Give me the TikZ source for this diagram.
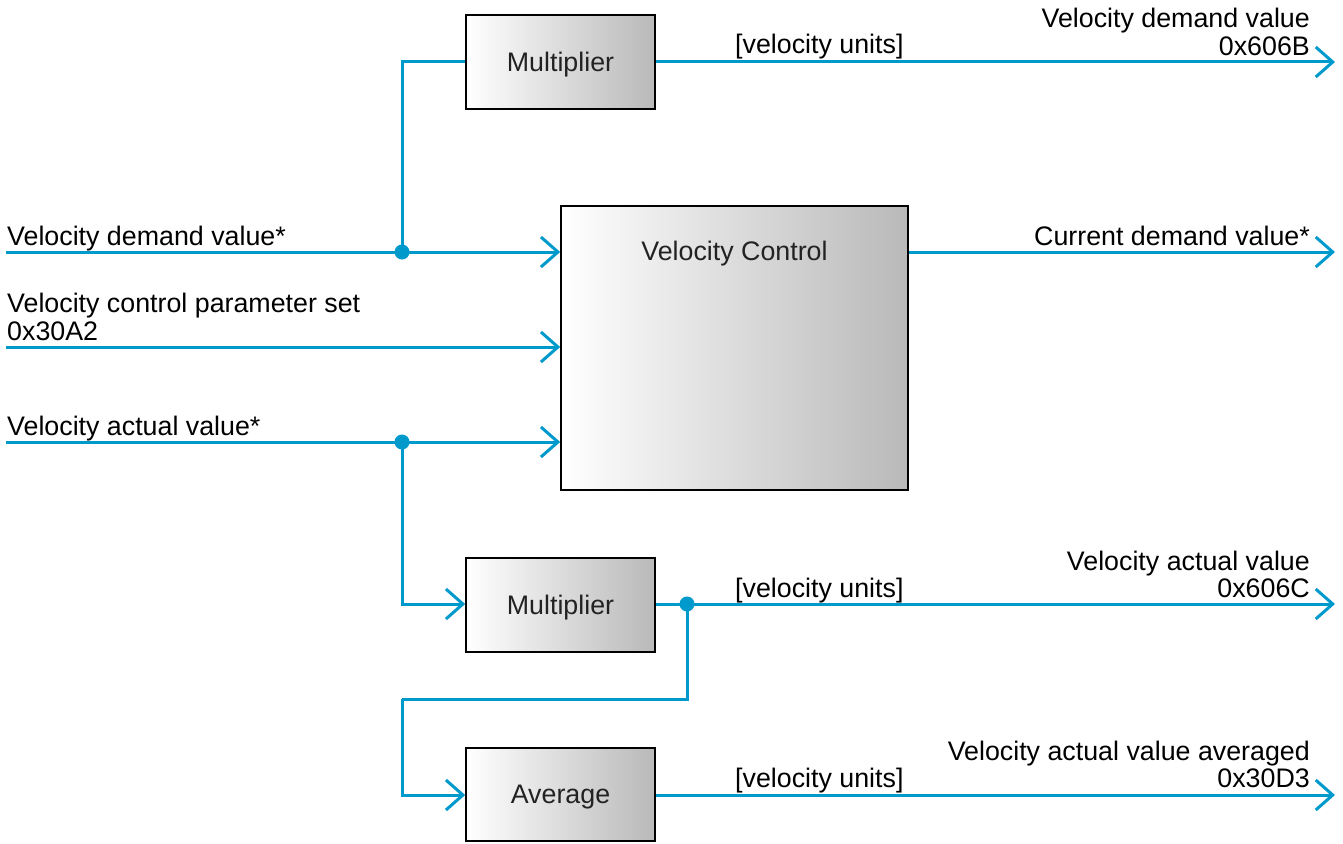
\documentclass[tikz,border=0pt]{standalone}
\usepackage{fontspec}
\setmainfont{Liberation Sans}
\usetikzlibrary{arrows.meta}
\definecolor{wire}{RGB}{0,153,204}
\definecolor{boxtext}{RGB}{34,34,34}
\begin{document}
\begin{tikzpicture}[x=1pt,y=-1pt,
  font=\fontsize{26.8pt}{28pt}\selectfont,
  blk/.style={draw=black,line width=1.6pt,left color=white,right color=gray!55,
    inner sep=0pt,text=boxtext,text depth=0pt},
  wireline/.style={draw=wire,line width=3pt},
  arr/.style={wireline,-{Straight Barb[length=17pt,width=30pt,line width=3pt]}},
  dot/.style={circle,fill=wire,inner sep=0pt,minimum size=15pt},
  lbl/.style={inner sep=0pt,text=black}]
\useasboundingbox (0,0) rectangle (1343,843);
% blocks
\node[blk,minimum width=189pt,minimum height=94pt] (mult1) at (560.5,62) {Multiplier};
\node[blk,minimum width=347pt,minimum height=284pt] (vc) at (734.5,348) {};
\node[lbl,text=boxtext,anchor=base] (vclabel) at (734.5,260) {Velocity Control};
\node[blk,minimum width=189pt,minimum height=94pt] (mult2) at (560.5,605) {Multiplier};
\node[blk,minimum width=189pt,minimum height=93pt] (avg) at (560.5,794.5) {Average};
% coordinates
\coordinate (in1) at (6,252);
\coordinate (in2) at (6,347);
\coordinate (in3) at (6,442);
\coordinate (out1) at (1335,62);
\coordinate (out2) at (1335,252);
\coordinate (out3) at (1335,604);
\coordinate (out4) at (1335,795);
\coordinate (c1) at (402,699);
% junction dots
\node[dot] (j1) at (402,252) {};
\node[dot] (j2) at (402,442) {};
\node[dot] (j3) at (687,604) {};
% connectors
\draw[arr] (in1) -- (vc.west |- in1);
\draw[arr] (in2) -- (vc.west |- in2);
\draw[arr] (in3) -- (vc.west |- in3);
\draw[wireline] (j1.center) |- (mult1.west);
\draw[arr] (mult1.east) -- (out1);
\draw[arr] (vc.east |- out2) -- (out2);
\draw[arr] (j2.center) |- (mult2.west |- out3);
\draw[arr] (mult2.east |- out3) -- (out3);
\draw[wireline] (j3.center) |- (c1);
\draw[arr] (c1) |- (avg.west |- out4);
\draw[arr] (avg.east |- out4) -- (out4);
% labels
\node[lbl,anchor=base west] (l1) at (7,245) {Velocity demand value*};
\node[lbl,anchor=base west] (l2a) at (7,312) {Velocity control parameter set};
\node[lbl,anchor=base west] (l2b) at (7,340) {0x30A2};
\node[lbl,anchor=base west] (l3) at (7,435) {Velocity actual value*};
\node[lbl,anchor=base east] (o1a) at (1310,28) {Velocity demand value};
\node[lbl,anchor=base east] (o1b) at (1310,56) {0x606B};
\node[lbl,anchor=base east] (o2) at (1310,245) {Current demand value*};
\node[lbl,anchor=base east] (o3a) at (1310,570) {Velocity actual value};
\node[lbl,anchor=base east] (o3b) at (1310,597) {0x606C};
\node[lbl,anchor=base east] (o4a) at (1310,760) {Velocity actual value averaged};
\node[lbl,anchor=base east] (o4b) at (1310,787) {0x30D3};
\node[lbl,anchor=base west] (u1) at (735,54) {[velocity units]};
\node[lbl,anchor=base west] (u2) at (735,597) {[velocity units]};
\node[lbl,anchor=base west] (u3) at (735,787) {[velocity units]};
\end{tikzpicture}
\end{document}
